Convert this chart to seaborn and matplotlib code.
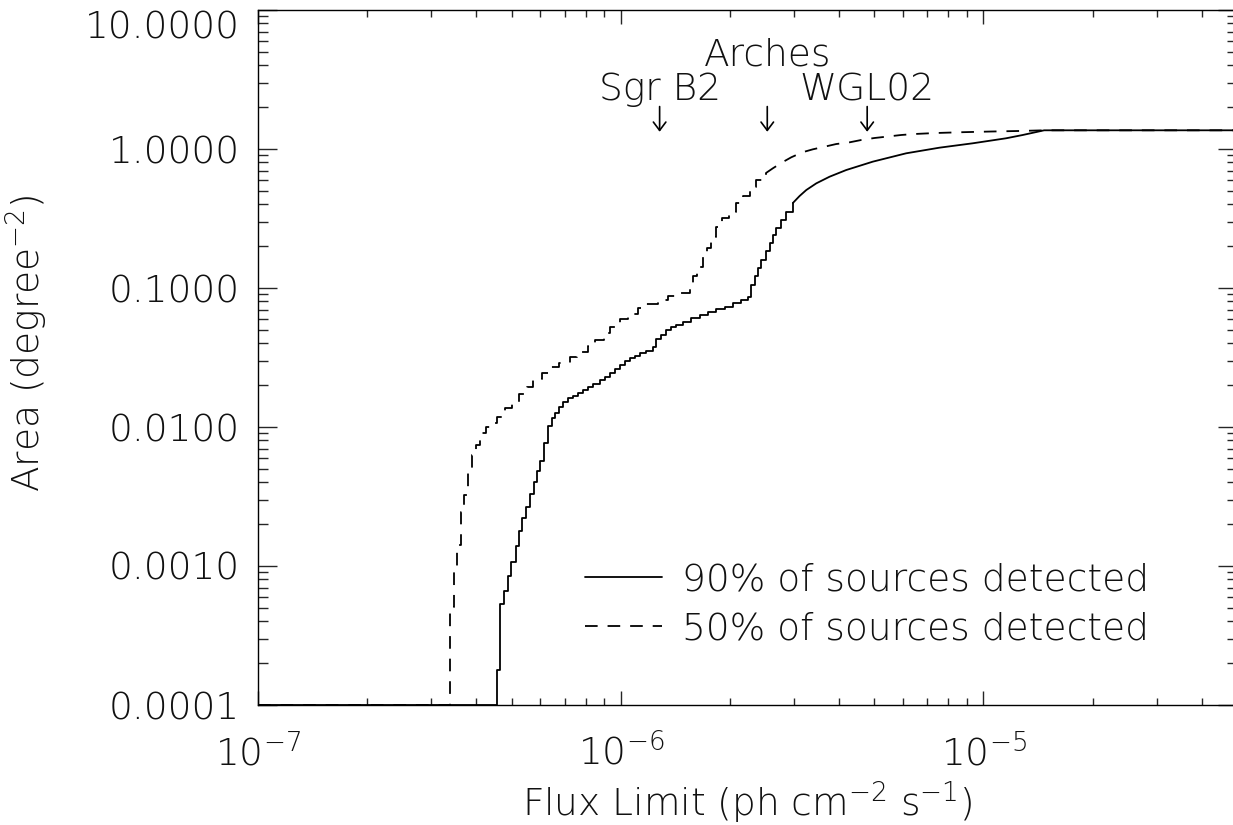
import numpy as np
import pandas as pd
import matplotlib
matplotlib.use("Agg")
import matplotlib.pyplot as plt
import seaborn as sns
from matplotlib.lines import Line2D
from matplotlib.ticker import LogLocator, FixedLocator, FixedFormatter, NullFormatter

# ---------------- data ----------------
flux_90 = [1e-7, 4.57e-7, 4.66e-7, 4.76e-7, 4.88e-7, 4.99e-7, 5.13e-7, 5.25e-7, 5.36e-7,
           5.48e-7, 5.61e-7, 5.75e-7, 5.87e-7, 5.99e-7, 6.16e-7, 6.30e-7, 6.45e-7, 6.58e-7,
           6.76e-7, 6.94e-7, 7.16e-7, 7.39e-7, 7.63e-7, 7.87e-7, 8.13e-7, 8.39e-7, 8.75e-7,
           9.03e-7, 9.33e-7, 9.63e-7, 9.94e-7, 1.026e-6, 1.059e-6, 1.093e-6, 1.128e-6,
           1.177e-6, 1.227e-6, 1.254e-6, 1.294e-6, 1.336e-6, 1.379e-6, 1.423e-6, 1.485e-6,
           1.566e-6, 1.651e-6, 1.740e-6, 1.835e-6, 1.934e-6, 2.039e-6, 2.150e-6, 2.242e-6,
           2.291e-6, 2.339e-6, 2.389e-6, 2.441e-6, 2.521e-6, 2.574e-6, 2.628e-6, 2.686e-6,
           2.772e-6, 2.860e-6, 2.983e-6, 3.112e-6, 3.248e-6, 3.46e-6, 3.765e-6, 4.185e-6,
           4.955e-6, 6.12e-6, 7.56e-6, 9.34e-6, 1.154e-5, 1.283e-5, 1.47e-5, 5.0e-5]
area_90 = [1e-4, 1.79e-4, 5.33e-4, 6.64e-4, 8.47e-4, 1.06e-3, 1.39e-3, 1.79e-3, 2.20e-3,
           2.67e-3, 3.28e-3, 4.04e-3, 4.82e-3, 5.69e-3, 7.63e-3, 1.016e-2, 1.17e-2, 1.255e-2,
           1.40e-2, 1.52e-2, 1.61e-2, 1.68e-2, 1.77e-2, 1.85e-2, 1.93e-2, 2.03e-2, 2.18e-2,
           2.30e-2, 2.43e-2, 2.60e-2, 2.79e-2, 2.98e-2, 3.12e-2, 3.24e-2, 3.39e-2,
           3.54e-2, 3.78e-2, 4.27e-2, 4.59e-2, 4.99e-2, 5.22e-2, 5.42e-2, 5.72e-2,
           6.05e-2, 6.39e-2, 6.69e-2, 7.03e-2, 7.33e-2, 7.76e-2, 8.20e-2, 8.58e-2,
           0.105, 0.121, 0.139, 0.159, 0.185, 0.210, 0.241, 0.272,
           0.310, 0.354, 0.409, 0.459, 0.507, 0.566, 0.632, 0.706,
           0.811, 0.931, 1.022, 1.099, 1.194, 1.261, 1.363, 1.363]

flux_50 = [1e-7, 3.38e-7, 3.46e-7, 3.54e-7, 3.62e-7, 3.69e-7, 3.80e-7, 3.88e-7, 3.98e-7,
           4.09e-7, 4.25e-7, 4.36e-7, 4.56e-7, 4.79e-7, 5.00e-7, 5.25e-7, 5.50e-7, 5.73e-7,
           6.05e-7, 6.44e-7, 6.76e-7, 7.24e-7, 7.58e-7, 8.13e-7, 8.48e-7, 8.98e-7, 9.33e-7,
           9.94e-7, 1.047e-6, 1.114e-6, 1.177e-6, 1.267e-6, 1.350e-6, 1.454e-6, 1.549e-6,
           1.582e-6, 1.622e-6, 1.685e-6, 1.728e-6, 1.778e-6, 1.827e-6, 1.906e-6, 1.987e-6,
           2.084e-6, 2.168e-6, 2.267e-6, 2.354e-6, 2.508e-6, 2.628e-6, 2.789e-6, 2.953e-6,
           3.168e-6, 3.387e-6, 3.648e-6, 3.928e-6, 4.275e-6, 4.604e-6, 5.008e-6, 5.395e-6,
           5.93e-6, 6.45e-6, 7.37e-6, 8.75e-6, 1.052e-5, 1.257e-5, 1.47e-5, 5.0e-5]
area_50 = [1e-4, 5.04e-4, 9.35e-4, 1.42e-3, 2.46e-3, 3.24e-3, 4.99e-3, 6.30e-3, 7.43e-3,
           9.10e-3, 1.00e-2, 1.074e-2, 1.186e-2, 1.363e-2, 1.52e-2, 1.73e-2, 1.93e-2, 2.20e-2,
           2.43e-2, 2.69e-2, 2.90e-2, 3.21e-2, 3.48e-2, 3.83e-2, 4.23e-2, 4.77e-2, 5.28e-2,
           5.98e-2, 6.47e-2, 7.15e-2, 7.67e-2, 8.20e-2, 8.69e-2, 9.25e-2, 9.84e-2,
           0.121, 0.142, 0.168, 0.193, 0.234, 0.273, 0.317, 0.354,
           0.407, 0.459, 0.530, 0.598, 0.669, 0.727, 0.802, 0.872,
           0.947, 0.995, 1.039, 1.086, 1.117, 1.161, 1.200, 1.226,
           1.261, 1.282, 1.303, 1.321, 1.336, 1.348, 1.363, 1.363]

legend_labels = ["90% of sources detected", "50% of sources detected"]
ytick_values = [1e-4, 1e-3, 1e-2, 1e-1, 1.0, 10.0]
ytick_labels = ["0.0001", "0.0010", "0.0100", "0.1000", "1.0000", "10.0000"]
xtick_values = [1e-7, 1e-6, 1e-5]
xtick_labels = [r"$10^{-7}$", r"$10^{-6}$", r"$10^{-5}$"]
source_names = ["Sgr B2", "Arches", "WGL02"]
source_flux = [1.28e-6, 2.535e-6, 4.78e-6]

# ---------------- style ----------------
sns.set_style("ticks")
plt.rcParams["font.family"] = ["DejaVu Sans"]
plt.rcParams["font.weight"] = 200
plt.rcParams["axes.labelweight"] = 200
plt.rcParams["mathtext.fontset"] = "custom"
plt.rcParams["mathtext.rm"] = "DejaVu Sans:light"
plt.rcParams["mathtext.it"] = "DejaVu Sans:light"
plt.rcParams["mathtext.default"] = "regular"
plt.rcParams["axes.unicode_minus"] = True
TXT = "#111111"
FS = 27

fig = plt.figure(figsize=(12.33, 8.25), dpi=100)
ax = fig.add_axes([258 / 1233, 120 / 825, 979 / 1233, 695 / 825])
ax.set_xscale("log")
ax.set_yscale("log")

lw = 1.3
dash = (0, (7, 5.5))

df90 = pd.DataFrame({"flux": flux_90, "area": area_90})
df50 = pd.DataFrame({"flux": flux_50, "area": area_50})

split90 = 3.0e-6
split50 = 2.6e-6
s90 = df90[df90.flux <= split90]
l90 = df90[df90.flux >= s90.flux.max()]
s50 = df50[df50.flux <= split50]
l50 = df50[df50.flux >= s50.flux.max()]

sns.lineplot(data=s90, x="flux", y="area", drawstyle="steps-post", estimator=None,
             sort=False, color="black", lw=lw, ax=ax)
sns.lineplot(data=l90, x="flux", y="area", estimator=None, sort=False,
             color="black", lw=lw, ax=ax)
sns.lineplot(data=s50, x="flux", y="area", drawstyle="steps-post", estimator=None,
             sort=False, color="black", lw=lw, linestyle=dash, ax=ax)
sns.lineplot(data=l50, x="flux", y="area", estimator=None, sort=False,
             color="black", lw=lw, linestyle=dash, ax=ax)

ax.set_xlim(1e-7, 5e-5)
ax.set_ylim(1e-4, 10)

# ticks (IDL style: inward on all four sides)
ax.xaxis.set_major_locator(FixedLocator(xtick_values))
ax.xaxis.set_major_formatter(FixedFormatter(xtick_labels))
ax.xaxis.set_minor_locator(LogLocator(base=10, subs=np.arange(2, 10), numticks=20))
ax.xaxis.set_minor_formatter(NullFormatter())
ax.yaxis.set_major_locator(FixedLocator(ytick_values))
ax.yaxis.set_major_formatter(FixedFormatter(ytick_labels))
ax.yaxis.set_minor_locator(LogLocator(base=10, subs=np.arange(2, 10), numticks=20))
ax.yaxis.set_minor_formatter(NullFormatter())

ax.tick_params(axis="x", which="major", direction="in", top=True, bottom=True,
               length=10, width=1, pad=20, labelsize=FS, labelcolor=TXT)
ax.tick_params(axis="x", which="minor", direction="in", top=True, bottom=True,
               length=5, width=1)
ax.tick_params(axis="y", which="major", direction="in", left=True, right=True,
               length=14, width=1, pad=13, labelsize=FS, labelcolor=TXT)
ax.tick_params(axis="y", which="minor", direction="in", left=True, right=True,
               length=7, width=1)
for sp in ax.spines.values():
    sp.set_linewidth(1.0)
    sp.set_color("black")

ax.set_xlabel(r"Flux Limit (ph cm$^{-2}$ s$^{-1}$)", fontsize=FS, color=TXT, labelpad=5)
ax.set_ylabel(r"Area (degree$^{-2}$)", fontsize=FS, color=TXT)
ax.yaxis.set_label_coords(-0.212, 0.521)

# source markers
for name, fx, ty in zip(source_names, source_flux, [2.25, 4.02, 2.25]):
    ax.annotate("", xy=(fx, 1.33), xytext=(fx, 2.02),
                arrowprops=dict(arrowstyle="->,head_length=0.4,head_width=0.3",
                                color="black", lw=1.2, shrinkA=0, shrinkB=0,
                                mutation_scale=15))
    ax.text(fx, ty, name, ha="center", va="baseline", fontsize=FS, color=TXT)

handles = [Line2D([], [], color="black", lw=lw),
           Line2D([], [], color="black", lw=lw, linestyle=dash)]
ax.legend(handles, legend_labels, loc="upper left", bbox_to_anchor=(0.334, 0.205),
          frameon=False, fontsize=FS, handlelength=2.05, handletextpad=0.55,
          labelspacing=0.36, borderpad=0, borderaxespad=0,
          labelcolor=TXT)

# top y label sits below the top edge, as in the reference
fig.canvas.draw()
for lab in ax.yaxis.get_majorticklabels():
    if lab.get_text() == "10.0000":
        lab.set_va("top")

fig.savefig("out.png", dpi=100)
